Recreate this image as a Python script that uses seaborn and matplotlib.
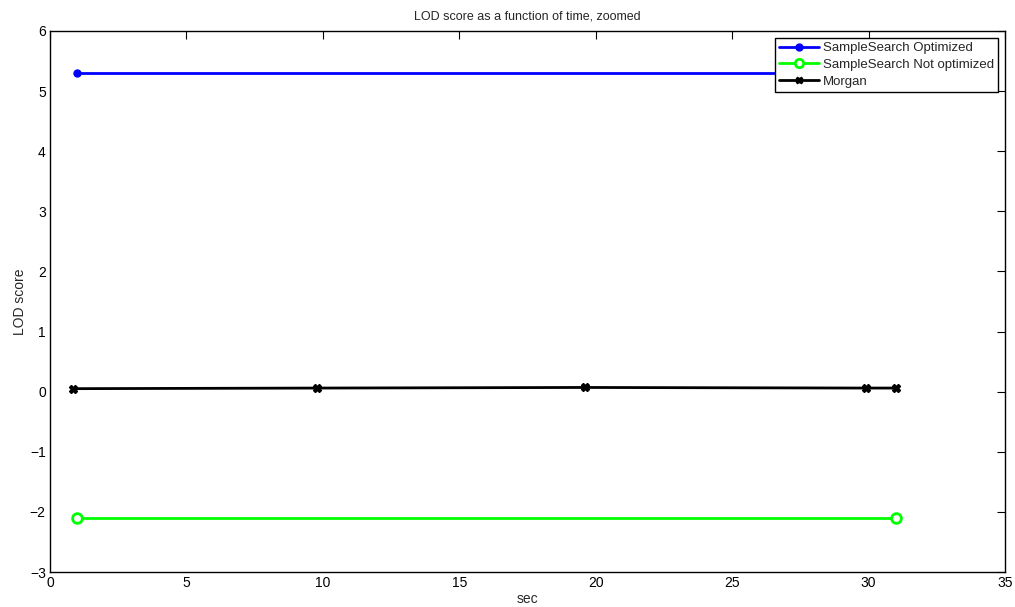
import matplotlib
matplotlib.use("Agg")
import matplotlib.pyplot as plt
from matplotlib.lines import Line2D
import seaborn as sns
import pandas as pd

# LOD score traces over time (seconds)
opt_sec = [1, 31]
opt_lod = [5.3, 5.3]
notopt_sec = [1, 31]
notopt_lod = [-2.1, -2.1]
morgan_sec = [0.85, 9.8, 19.6, 29.9, 31]
morgan_lod = [0.05, 0.06, 0.07, 0.06, 0.06]

labels = ["SampleSearch Optimized", "SampleSearch Not optimized", "Morgan"]

df = pd.concat([
    pd.DataFrame({"sec": opt_sec, "lod": opt_lod, "method": labels[0]}),
    pd.DataFrame({"sec": notopt_sec, "lod": notopt_lod, "method": labels[1]}),
    pd.DataFrame({"sec": morgan_sec, "lod": morgan_lod, "method": labels[2]}),
])

sns.set_style("white")
plt.rcParams["font.family"] = ["Liberation Sans", "DejaVu Sans"]

fig = plt.figure(figsize=(10.15, 6.07), dpi=100)
ax = fig.add_axes([50 / 1015, 1 - 572 / 607, 955 / 1015, 541 / 607])

palette = {labels[0]: "#0000ff", labels[1]: "#00ff00", labels[2]: "#000000"}

for name in labels:
    sub = df[df["method"] == name]
    sns.lineplot(data=sub, x="sec", y="lod", ax=ax, color=palette[name],
                 linewidth=2, legend=False)

ax.plot(opt_sec, opt_lod, linestyle="none", marker="o", markersize=5,
        color="#0000ff")
ax.plot(notopt_sec, notopt_lod, linestyle="none", marker="o", markersize=7,
        markerfacecolor="white", markeredgecolor="#00ff00", markeredgewidth=2)
ax.plot(morgan_sec, morgan_lod, linestyle="none", marker="X", markersize=5.5,
        color="#000000")

ax.set_xlim(0, 35)
ax.set_ylim(-3, 6)
ax.set_xticks(range(0, 36, 5))
ax.set_yticks(range(-3, 7))
ax.tick_params(direction="in", length=6, width=0.8, top=True, right=True,
               labelsize=10, pad=3, colors="black")
for s in ax.spines.values():
    s.set_color("black")
    s.set_linewidth(1)

ax.set_xlabel("sec", fontsize=10, labelpad=1)
ax.set_ylabel("LOD score", fontsize=10, labelpad=2)
ax.set_title("LOD score as a function of time, zoomed", fontsize=9, pad=8)

handles = [
    Line2D([], [], color="#0000ff", lw=2, marker="o", markersize=5),
    Line2D([], [], color="#00ff00", lw=2, marker="o", markersize=6,
           markerfacecolor="white", markeredgewidth=2),
    Line2D([], [], color="#000000", lw=2, marker="X", markersize=5),
]
leg = ax.legend(handles, labels, loc="upper right", fontsize=9.5,
                frameon=True, fancybox=False, framealpha=1,
                edgecolor="black", borderpad=0.3, labelspacing=0.35,
                handlelength=3, handletextpad=0.3, borderaxespad=0,
                bbox_to_anchor=(1 - 7 / 955, 1 - 7 / 541))
leg.get_frame().set_linewidth(1)

fig.savefig("out.png", dpi=100)
